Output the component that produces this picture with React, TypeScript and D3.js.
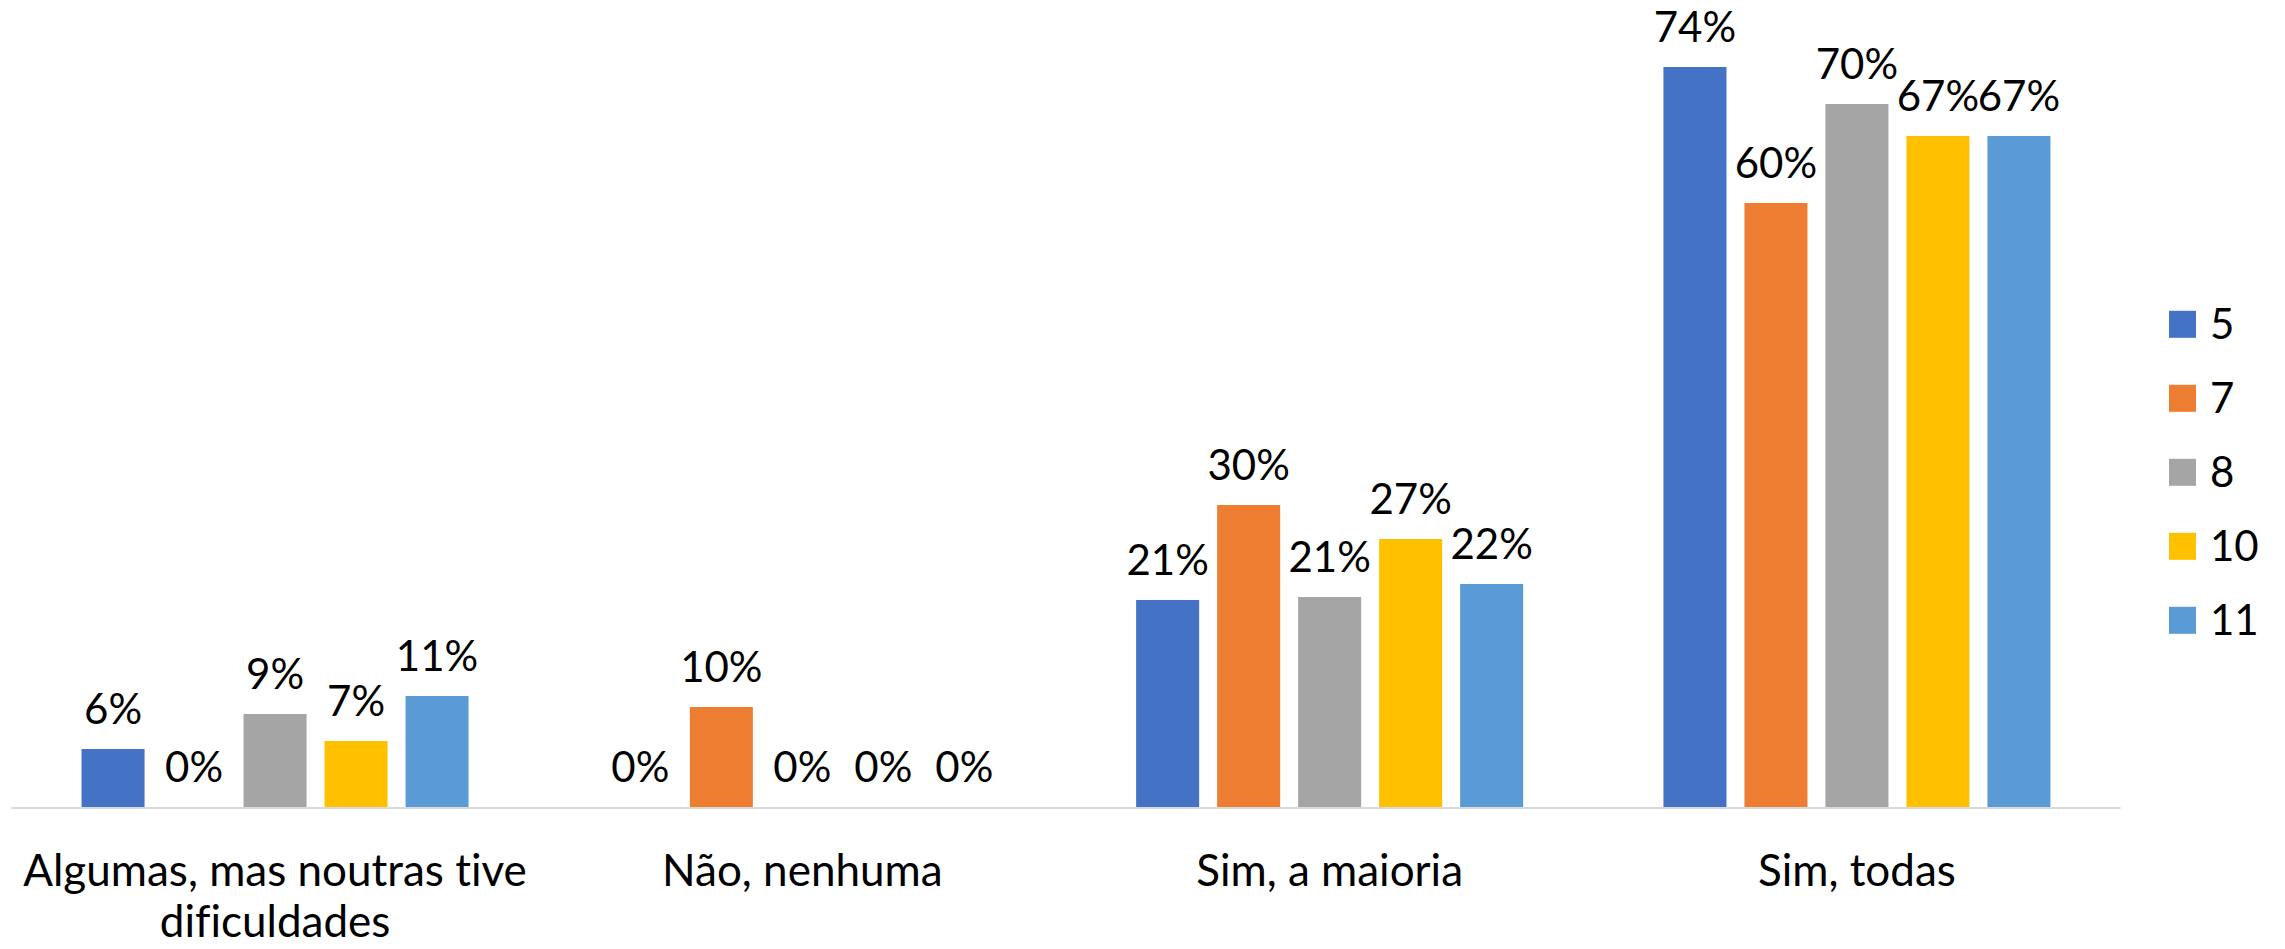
import * as d3 from 'd3';

const categories = ['Algumas, mas noutras tive dificuldades', 'Não, nenhuma', 'Sim, a maioria', 'Sim, todas'];
const categoryLines = [['Algumas, mas noutras tive', 'dificuldades'], ['Não, nenhuma'], ['Sim, a maioria'], ['Sim, todas']];
const seriesNames = ['5', '7', '8', '10', '11'];
const seriesColors = ['#4472C4', '#ED7D31', '#A5A5A5', '#FFC000', '#5B9BD5'];

// one array per series, in category order
const s5 = [0.058, 0, 0.207, 0.74];
const s7 = [0, 0.1, 0.302, 0.604];
const s8 = [0.093, 0, 0.21, 0.703];
const s10 = [0.066, 0, 0.268, 0.671];
const s11 = [0.111, 0, 0.223, 0.671];
const seriesValues = [s5, s7, s8, s10, s11];

const W = 2285;
const H = 949;
const FONT = 'Lato, "Open Sans", sans-serif';

export default function App() {
  const baseY = 807;
  const x0 = d3.scaleBand<string>().domain(categories).range([11.4, 2120.6]).padding(0);
  const x1 = d3
    .scaleBand<string>()
    .domain(seriesNames)
    .range([0, x0.bandwidth()])
    .paddingInner(0.222)
    .paddingOuter(0.866);
  const y = d3.scaleLinear().domain([0, 0.8]).range([baseY, baseY - 800]);
  const fmt = d3.format('.0%');

  return (
    <svg
      width={W}
      height={H}
      style={{ position: 'fixed', left: 0, top: 0, background: '#fff', fontVariantLigatures: 'none' }}
      fontFamily={FONT}
    >
      {categories.map((c, ci) => (
        <g key={c} transform={`translate(${x0(c)},0)`}>
          {seriesNames.map((s, si) => {
            const v = seriesValues[si][ci];
            const bx = x1(s)!;
            const bw = x1.bandwidth();
            return (
              <g key={s}>
                <rect x={bx} y={y(v)} width={bw} height={baseY - y(v)} fill={seriesColors[si]} />
                <text x={bx + bw / 2} y={y(v) - 25} textAnchor="middle" fontSize={42} fill="#000">
                  {fmt(Math.round(v * 100) / 100)}
                </text>
              </g>
            );
          })}
          {categoryLines[ci].map((line, li) => (
            <text
              key={li}
              x={x0.bandwidth() / 2}
              y={886 + li * 51}
              textAnchor="middle"
              fontSize={44}
              fill="#000"
            >
              {line}
            </text>
          ))}
        </g>
      ))}
      <line x1={11.4} x2={2120.6} y1={baseY + 1} y2={baseY + 1} stroke="#D9D9D9" strokeWidth={2} />
      <g>
        {seriesNames.map((s, si) => (
          <g key={s} transform={`translate(2169,${324.3 + si * 74})`}>
            <rect x={0} y={-13.5} width={27} height={27} fill={seriesColors[si]} />
            <text x={41} y={15} fontSize={42} fill="#000">
              {s}
            </text>
          </g>
        ))}
      </g>
    </svg>
  );
}
